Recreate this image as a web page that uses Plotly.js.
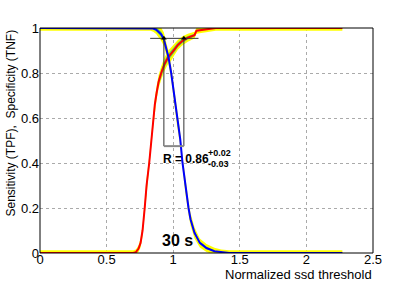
<!DOCTYPE html>
<html>
<head>
<meta charset="utf-8">
<script src="https://cdn.plot.ly/plotly-3.0.1.min.js"></script>
<style>html,body{margin:0;padding:0;background:#fff;}#chart{width:415px;height:283px;}</style>
</head>
<body>
<div id="chart"></div>
<script>
// Sensitivity (TPF) curve
var tpfX = [0, 0.70, 0.72, 0.74, 0.755, 0.77, 0.786, 0.80, 0.82, 0.835, 0.852, 0.862, 0.875, 0.89, 0.91, 0.935, 0.96, 0.985, 1.01, 1.035, 1.07, 1.11, 1.16, 1.175, 1.26, 1.32, 2.27];
var tpfY = [0, 0, 0.004, 0.02, 0.045, 0.10, 0.20, 0.30, 0.40, 0.50, 0.60, 0.66, 0.71, 0.76, 0.80, 0.84, 0.868, 0.885, 0.905, 0.925, 0.943, 0.957, 0.968, 0.988, 0.995, 1.0, 1.0];
var tpfErrOuter = [0.012, 0.012, 0.012, 0.015, 0.02, 0.025, 0.03, 0.03, 0.03, 0.03, 0.03, 0.03, 0.03, 0.03, 0.03, 0.03, 0.03, 0.03, 0.025, 0.022, 0.02, 0.018, 0.015, 0.013, 0.012, 0.012, 0.012];
var tpfErrInner = [0, 0, 0, 0.005, 0.008, 0.01, 0.012, 0.012, 0.012, 0.012, 0.012, 0.012, 0.013, 0.014, 0.015, 0.015, 0.015, 0.015, 0.013, 0.011, 0.01, 0.008, 0.006, 0.004, 0, 0, 0];

// Specificity (TNF) curve
var tnfX = [0, 0.83, 0.85, 0.872, 0.89, 0.91, 0.93, 0.948, 0.965, 0.985, 1.01, 1.028, 1.053, 1.07, 1.09, 1.115, 1.13, 1.16, 1.2, 1.25, 1.31, 1.36, 1.42, 2.27];
var tnfY = [1, 1, 0.998, 0.993, 0.985, 0.972, 0.95, 0.906, 0.869, 0.80, 0.69, 0.60, 0.505, 0.40, 0.30, 0.20, 0.15, 0.09, 0.045, 0.022, 0.008, 0.003, 0, 0];
var tnfErrOuter = [0.012, 0.012, 0.015, 0.02, 0.025, 0.03, 0.03, 0.03, 0.03, 0.03, 0.03, 0.03, 0.03, 0.03, 0.03, 0.03, 0.028, 0.025, 0.02, 0.018, 0.015, 0.013, 0.012, 0.012];
var tnfErrInner = [0, 0, 0.005, 0.008, 0.01, 0.012, 0.012, 0.012, 0.012, 0.012, 0.012, 0.012, 0.012, 0.012, 0.012, 0.012, 0.01, 0.008, 0.006, 0.005, 0, 0, 0, 0];

// Threshold interval marker
var boxX = [0.93, 1.08];
var boxYTop = 0.954;
var boxYBottom = 0.475;
var barX = [0.827, 1.19];

// Axis ticks
var xTicks = [0, 0.5, 1, 1.5, 2, 2.5];
var xTickText = ['0', '0.5', '1', '1.5', '2', '2.5'];
var yTicks = [0, 0.2, 0.4, 0.6, 0.8, 1];
var yTickText = ['0', '0.2', '0.4', '0.6', '0.8', '1'];

var FONT = 'Liberation Sans, Arial, Helvetica, sans-serif';

function band(x, y, err, color) {
  var bx = x.slice(), by = [];
  for (var i = 0; i < x.length; i++) by.push(y[i] + err[i]);
  for (var j = x.length - 1; j >= 0; j--) { bx.push(x[j]); by.push(y[j] - err[j]); }
  return {x: bx, y: by, type: 'scatter', mode: 'lines', fill: 'toself',
          fillcolor: color, line: {width: 0, color: color}, hoverinfo: 'skip', showlegend: false};
}

var traces = [
  band(tpfX, tpfY, tpfErrOuter, '#ffff00'),
  band(tnfX, tnfY, tnfErrOuter, '#ffff00'),
  band(tpfX, tpfY, tpfErrInner, '#66cc66'),
  band(tnfX, tnfY, tnfErrInner, '#66cc66'),
  {x: tpfX, y: tpfY, type: 'scatter', mode: 'lines', line: {color: '#ff0000', width: 2}, showlegend: false},
  {x: tnfX, y: tnfY, type: 'scatter', mode: 'lines', line: {color: '#0000ff', width: 2}, showlegend: false},
  // interval marker
  {x: barX, y: [boxYTop, boxYTop], type: 'scatter', mode: 'lines', line: {color: '#333', width: 1}, showlegend: false},
  {x: [boxX[0], boxX[0]], y: [boxYTop, boxYBottom], type: 'scatter', mode: 'lines', line: {color: '#333', width: 1}, showlegend: false},
  {x: [boxX[1], boxX[1]], y: [boxYTop, boxYBottom], type: 'scatter', mode: 'lines', line: {color: '#333', width: 1}, showlegend: false},
  {x: boxX, y: [boxYBottom, boxYBottom], type: 'scatter', mode: 'lines', line: {color: '#888', width: 2}, showlegend: false},
  {x: boxX, y: [boxYTop, boxYTop], type: 'scatter', mode: 'markers', marker: {symbol: 'triangle-up', size: 5, color: '#000'}, showlegend: false}
];

var layout = {
  width: 415, height: 283,
  margin: {l: 40, r: 42, t: 28, b: 30},
  paper_bgcolor: '#fff', plot_bgcolor: '#fff',
  font: {family: FONT, color: '#000'},
  showlegend: false,
  xaxis: {
    range: [0, 2.5], tickvals: xTicks, ticktext: xTickText,
    anchor: 'free', position: 0.012,
    showgrid: true, gridcolor: '#aaa', griddash: 'dot', gridwidth: 1,
    zeroline: false, showline: false,
    ticks: '', tickfont: {size: 13, family: FONT, color: '#000'}
  },
  yaxis: {
    range: [0, 1], tickvals: yTicks, ticktext: yTickText,
    showgrid: true, gridcolor: '#aaa', griddash: 'dot', gridwidth: 1,
    zeroline: false, showline: false,
    ticks: '', tickfont: {size: 13, family: FONT, color: '#000'}
  },
  shapes: [
    {type: 'rect', xref: 'paper', yref: 'paper', x0: 0, x1: 1, y0: 0, y1: 1,
     line: {color: '#000', width: 1}, layer: 'above'}
  ],
  annotations: [
    {xref: 'paper', yref: 'paper', x: -0.09, y: 1, xanchor: 'center', yanchor: 'top',
     textangle: -90, showarrow: false, text: 'Sensitivity (TPF),\u00a0 Specificity (TNF)',
     font: {size: 12, family: FONT, color: '#000'}},
    {xref: 'paper', yref: 'paper', x: 1, y: -0.1333, xanchor: 'right', yanchor: 'bottom', borderpad: 0,
     showarrow: false, text: 'Normalized ssd threshold', font: {size: 13, family: FONT, color: '#000'}},
    {xref: 'x', yref: 'y', x: 0.905, y: 0.416, xanchor: 'left', yanchor: 'middle', showarrow: false,
     text: '<b>R = 0.86</b>', font: {size: 12, family: FONT, color: '#000'}},
    {xref: 'x', yref: 'y', x: 1.245, y: 0.445, xanchor: 'left', yanchor: 'middle', showarrow: false,
     text: '<b>+0.02</b>', font: {size: 9, family: FONT, color: '#000'}},
    {xref: 'x', yref: 'y', x: 1.245, y: 0.395, xanchor: 'left', yanchor: 'middle', showarrow: false,
     text: '<b>-0.03</b>', font: {size: 9, family: FONT, color: '#000'}},
    {xref: 'x', yref: 'y', x: 1.033, y: 0.055, xanchor: 'center', yanchor: 'middle', showarrow: false,
     text: '<b>30 s</b>', font: {size: 16, family: FONT, color: '#000'}}
  ]
};

Plotly.newPlot('chart', traces, layout, {displayModeBar: false, staticPlot: true});
</script>
</body>
</html>
